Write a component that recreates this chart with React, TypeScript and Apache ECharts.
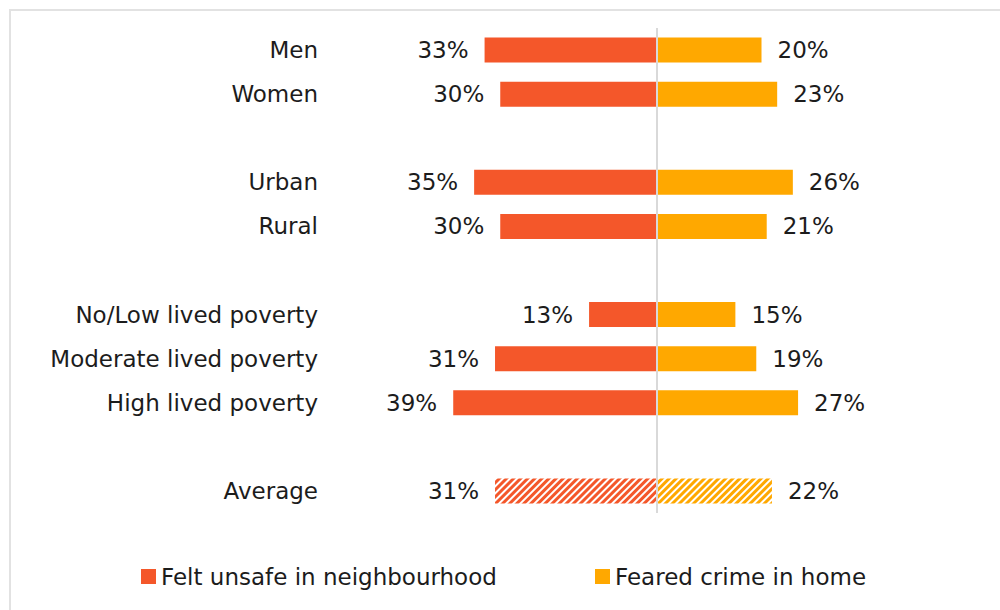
import React, { useEffect, useRef } from "react";
import * as echarts from "echarts";

const categories = [
  "Men",
  "Women",
  "",
  "Urban",
  "Rural",
  "",
  "No/Low lived poverty",
  "Moderate lived poverty",
  "High lived poverty",
  "",
  "Average",
];
const feltUnsafe: (number | null)[] = [33, 30, null, 35, 30, null, 13, 31, 39, null, 31];
const fearedCrime: (number | null)[] = [20, 23, null, 26, 21, null, 15, 19, 27, null, 22];
const seriesNames = ["Felt unsafe in neighbourhood", "Feared crime in home"];
const hatchedCategory = "Average";

const RED = "#F4572A";
const AMBER = "#FFA800";
const FONT = "DejaVu Sans";
const TEXT = "#1c1c1c";

function hatch(color: string) {
  return {
    symbol: "rect",
    symbolSize: 1,
    color,
    backgroundColor: "#ffffff",
    dashArrayX: [[1, 0]],
    dashArrayY: [3, 2],
    rotation: -Math.PI / 4,
  };
}

export default function App() {
  const ref = useRef<HTMLDivElement>(null);
  useEffect(() => {
    if (!ref.current) return;
    const chart = echarts.init(ref.current, undefined, { renderer: "svg" });
    const leftData = feltUnsafe.map((v, i) =>
      v == null
        ? null
        : categories[i] === hatchedCategory
        ? { value: -v, itemStyle: { color: "#ffffff", decal: hatch(RED) } }
        : -v
    );
    const rightData = fearedCrime.map((v, i) =>
      v == null
        ? null
        : categories[i] === hatchedCategory
        ? { value: v, itemStyle: { color: "#ffffff", decal: hatch(AMBER) } }
        : v
    );
    const labelStyle = {
      show: true,
      fontFamily: FONT,
      fontSize: 23,
      color: TEXT,
      distance: 16,
      formatter: (p: any) => Math.abs(p.value) + "%",
    };
    chart.setOption({
      animation: false,
      textStyle: { fontFamily: FONT },
      graphic: [
        {
          type: "rect",
          shape: { x: 10, y: 10, width: 1100, height: 700 },
          style: { fill: "none", stroke: "#E2E2E2", lineWidth: 2 },
          silent: true,
        },
      ],
      legend: [
        {
          data: [seriesNames[0]],
          left: 136,
          top: 560,
          icon: "rect",
          itemWidth: 15,
          itemHeight: 15,
          itemGap: 7,
          textStyle: { fontFamily: FONT, fontSize: 23, color: TEXT },
        },
        {
          data: [seriesNames[1]],
          left: 590,
          top: 560,
          icon: "rect",
          itemWidth: 15,
          itemHeight: 15,
          textStyle: { fontFamily: FONT, fontSize: 23, color: TEXT },
        },
      ],
      grid: { left: 448, right: 1000 - 866, top: 28, height: 485, containLabel: false },
      xAxis: {
        type: "value",
        min: -40,
        max: 40,
        show: false,
      },
      yAxis: {
        type: "category",
        data: categories,
        inverse: true,
        axisLine: { show: false },
        axisTick: { show: false },
        splitLine: { show: false },
        axisLabel: {
          fontFamily: FONT,
          fontSize: 23,
          color: TEXT,
          margin: 130,
        },
      },
      series: [
        {
          name: seriesNames[0],
          type: "bar",
          data: leftData,
          barWidth: 25,
          barGap: "-100%",
          itemStyle: { color: RED },
          label: { ...labelStyle, position: "left" },
          markLine: {
            silent: true,
            symbol: "none",
            label: { show: false },
            lineStyle: { color: "#D9D9D9", width: 2, type: "solid" },
            data: [{ xAxis: 0 }],
          },
        },
        {
          name: seriesNames[1],
          type: "bar",
          data: rightData,
          barWidth: 25,
          barGap: "-100%",
          itemStyle: { color: AMBER },
          label: { ...labelStyle, position: "right" },
        },
      ],
    });
    return () => chart.dispose();
  }, []);
  return (
    <div
      ref={ref}
      style={{ position: "fixed", left: 0, top: 0, width: 1000, height: 610, background: "#fff" }}
    />
  );
}
